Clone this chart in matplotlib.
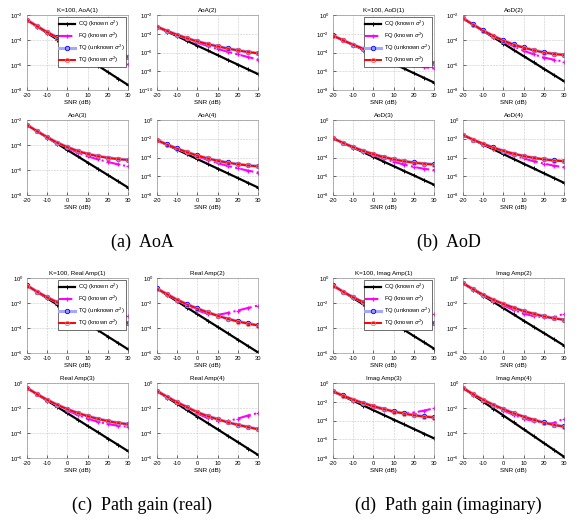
import numpy as np
import matplotlib.pyplot as plt

plt.rcParams['font.family'] = ['Liberation Sans', 'DejaVu Sans']
plt.rcParams['mathtext.fontset'] = 'custom'
plt.rcParams['mathtext.rm'] = 'Liberation Sans'
plt.rcParams['axes.unicode_minus'] = False

snr = [-20, -15, -10, -5, 0, 5, 10, 15, 20, 25, 30]

# log10 of the error values
aoa1_cq = [-2.4, -2.92, -3.44, -3.96, -4.48, -5.0, -5.52, -6.04, -6.56, -7.08, -7.6]
aoa1_fq = [-2.4, -2.9, -3.4, -3.85, -4.25, -4.6, -4.95, -5.25, -5.5, -5.75, -5.95]
aoa1_tqu = [-2.38, -2.88, -3.36, -3.78, -4.13, -4.43, -4.68, -4.88, -5.05, -5.2, -5.32]
aoa1_tqk = [-2.4, -2.9, -3.38, -3.8, -4.15, -4.45, -4.7, -4.9, -5.08, -5.22, -5.35]

aoa2_cq = [-3.25, -3.76, -4.26, -4.77, -5.27, -5.78, -6.28, -6.79, -7.29, -7.8, -8.3]
aoa2_fq = [-3.25, -3.72, -4.15, -4.58, -4.95, -5.3, -5.62, -5.92, -6.2, -6.48, -6.75]
aoa2_tqu = [-3.23, -3.68, -4.1, -4.48, -4.8, -5.08, -5.33, -5.56, -5.76, -5.93, -6.07]
aoa2_tqk = [-3.25, -3.7, -4.12, -4.5, -4.82, -5.1, -5.35, -5.58, -5.78, -5.95, -6.1]

aoa3_cq = [-2.4, -2.9, -3.4, -3.9, -4.4, -4.9, -5.4, -5.9, -6.4, -6.9, -7.4]
aoa3_fq = [-2.4, -2.9, -3.4, -3.85, -4.25, -4.6, -4.9, -5.15, -5.35, -5.55, -5.7]
aoa3_tqu = [-2.38, -2.88, -3.36, -3.8, -4.16, -4.46, -4.7, -4.88, -5.01, -5.11, -5.18]
aoa3_tqk = [-2.4, -2.9, -3.38, -3.82, -4.18, -4.48, -4.72, -4.9, -5.03, -5.13, -5.2]

aoa4_cq = [-2.15, -2.66, -3.16, -3.67, -4.17, -4.68, -5.18, -5.69, -6.19, -6.7, -7.2]
aoa4_fq = [-2.15, -2.63, -3.08, -3.5, -3.9, -4.25, -4.6, -4.9, -5.15, -5.4, -5.6]
aoa4_tqu = [-2.13, -2.6, -3.03, -3.43, -3.78, -4.08, -4.33, -4.53, -4.7, -4.83, -4.93]
aoa4_tqk = [-2.15, -2.62, -3.05, -3.45, -3.8, -4.1, -4.35, -4.55, -4.72, -4.85, -4.95]

aod1_cq = [-2.2, -2.7, -3.2, -3.7, -4.2, -4.7, -5.2, -5.7, -6.2, -6.7, -7.2]
aod1_fq = [-2.2, -2.7, -3.2, -3.65, -4.05, -4.45, -4.8, -5.1, -5.35, -5.55, -5.7]
aod1_tqu = [-2.18, -2.68, -3.16, -3.58, -3.96, -4.28, -4.53, -4.73, -4.88, -5.0, -5.08]
aod1_tqk = [-2.2, -2.7, -3.18, -3.6, -3.98, -4.3, -4.55, -4.75, -4.9, -5.02, -5.1]

aod2_cq = [-2.27, -2.77, -3.28, -3.78, -4.28, -4.79, -5.29, -5.79, -6.3, -6.8, -7.3]
aod2_fq = [-2.27, -2.77, -3.27, -3.72, -4.12, -4.5, -4.85, -5.15, -5.4, -5.58, -5.73]
aod2_tqu = [-2.25, -2.75, -3.23, -3.66, -4.03, -4.35, -4.6, -4.81, -4.98, -5.1, -5.18]
aod2_tqk = [-2.27, -2.77, -3.25, -3.68, -4.05, -4.37, -4.62, -4.83, -5.0, -5.12, -5.2]

aod3_cq = [-1.95, -2.45, -2.94, -3.44, -3.93, -4.43, -4.92, -5.42, -5.91, -6.41, -6.9]
aod3_fq = [-1.95, -2.45, -2.92, -3.35, -3.75, -4.1, -4.45, -4.75, -5.0, -5.2, -5.35]
aod3_tqu = [-1.93, -2.43, -2.88, -3.28, -3.63, -3.93, -4.18, -4.38, -4.53, -4.65, -4.73]
aod3_tqk = [-1.95, -2.45, -2.9, -3.3, -3.65, -3.95, -4.2, -4.4, -4.55, -4.67, -4.75]

aod4_cq = [-1.6, -2.11, -2.62, -3.13, -3.64, -4.15, -4.66, -5.17, -5.68, -6.19, -6.7]
aod4_fq = [-1.6, -2.1, -2.57, -3.0, -3.4, -3.75, -4.1, -4.4, -4.65, -4.87, -5.05]
aod4_tqu = [-1.58, -2.08, -2.53, -2.93, -3.28, -3.58, -3.83, -4.03, -4.18, -4.3, -4.38]
aod4_tqk = [-1.6, -2.1, -2.55, -2.95, -3.3, -3.6, -3.85, -4.05, -4.2, -4.32, -4.4]

re1_cq = [-0.6, -1.11, -1.62, -2.13, -2.64, -3.15, -3.66, -4.17, -4.68, -5.19, -5.7]
re1_fq = [-0.6, -1.1, -1.55, -1.95, -2.35, -2.7, -3.0, -3.15, -3.2, -3.15, -3.0]
re1_tqu = [-0.58, -1.08, -1.53, -1.93, -2.28, -2.58, -2.86, -3.08, -3.28, -3.45, -3.58]
re1_tqk = [-0.6, -1.1, -1.55, -1.95, -2.3, -2.6, -2.88, -3.1, -3.3, -3.47, -3.6]

re2_cq = [-0.85, -1.36, -1.87, -2.38, -2.89, -3.4, -3.91, -4.42, -4.93, -5.44, -5.95]
re2_fq = [-0.85, -1.3, -1.78, -2.2, -2.6, -2.85, -2.95, -2.8, -2.6, -2.4, -2.2]
re2_tqu = [-0.83, -1.28, -1.73, -2.1, -2.43, -2.73, -3.0, -3.25, -3.46, -3.63, -3.78]
re2_tqk = [-0.85, -1.3, -1.75, -2.12, -2.45, -2.75, -3.02, -3.27, -3.48, -3.65, -3.8]

re3_cq = [-0.4, -0.9, -1.41, -1.91, -2.42, -2.92, -3.43, -3.93, -4.44, -4.94, -5.45]
re3_fq = [-0.4, -0.9, -1.37, -1.8, -2.2, -2.55, -2.85, -3.1, -3.28, -3.42, -3.5]
re3_tqu = [-0.38, -0.88, -1.33, -1.73, -2.08, -2.38, -2.63, -2.85, -3.03, -3.18, -3.28]
re3_tqk = [-0.4, -0.9, -1.35, -1.75, -2.1, -2.4, -2.65, -2.87, -3.05, -3.2, -3.3]

re4_cq = [-0.65, -1.16, -1.67, -2.18, -2.69, -3.2, -3.71, -4.22, -4.73, -5.24, -5.75]
re4_fq = [-0.65, -1.1, -1.57, -2.0, -2.45, -2.8, -3.0, -3.05, -2.85, -2.6, -2.4]
re4_tqu = [-0.63, -1.08, -1.53, -1.93, -2.33, -2.63, -2.88, -3.13, -3.33, -3.51, -3.68]
re4_tqk = [-0.65, -1.1, -1.55, -1.95, -2.35, -2.65, -2.9, -3.15, -3.35, -3.53, -3.7]

im1_cq = [-0.6, -1.1, -1.61, -2.11, -2.62, -3.12, -3.63, -4.13, -4.64, -5.14, -5.65]
im1_fq = [-0.6, -1.1, -1.55, -1.97, -2.4, -2.75, -3.0, -3.18, -3.25, -3.1, -2.85]
im1_tqu = [-0.58, -1.08, -1.53, -1.93, -2.28, -2.6, -2.88, -3.1, -3.3, -3.46, -3.58]
im1_tqk = [-0.6, -1.1, -1.55, -1.95, -2.3, -2.62, -2.9, -3.12, -3.32, -3.48, -3.6]

im2_cq = [-0.42, -0.92, -1.42, -1.91, -2.41, -2.91, -3.41, -3.91, -4.4, -4.9, -5.4]
im2_fq = [-0.42, -0.9, -1.37, -1.8, -2.2, -2.55, -2.85, -3.05, -3.15, -3.15, -2.85]
im2_tqu = [-0.4, -0.88, -1.33, -1.73, -2.06, -2.36, -2.63, -2.85, -3.05, -3.21, -3.33]
im2_tqk = [-0.42, -0.9, -1.35, -1.75, -2.08, -2.38, -2.65, -2.87, -3.07, -3.23, -3.35]

im3_cq = [-0.9, -1.4, -1.9, -2.4, -2.9, -3.4, -3.9, -4.4, -4.9, -5.4, -5.9]
im3_fq = [-0.9, -1.35, -1.8, -2.2, -2.55, -2.85, -3.1, -3.2, -3.15, -2.95, -2.7]
im3_tqu = [-0.88, -1.33, -1.76, -2.13, -2.46, -2.76, -3.02, -3.24, -3.42, -3.56, -3.66]
im3_tqk = [-0.9, -1.35, -1.78, -2.15, -2.48, -2.78, -3.04, -3.26, -3.44, -3.58, -3.68]

im4_cq = [-0.4, -0.95, -1.5, -2.05, -2.6, -3.15, -3.7, -4.25, -4.8, -5.35, -5.9]
im4_fq = [-0.4, -0.9, -1.37, -1.8, -2.2, -2.55, -2.85, -3.05, -3.2, -3.2, -2.85]
im4_tqu = [-0.38, -0.88, -1.33, -1.73, -2.08, -2.4, -2.68, -2.93, -3.15, -3.33, -3.47]
im4_tqk = [-0.4, -0.9, -1.35, -1.75, -2.1, -2.42, -2.7, -2.95, -3.17, -3.35, -3.5]

captions = ['(a)  AoA', '(b)  AoD', '(c)  Path gain (real)', '(d)  Path gain (imaginary)']
titles = [
    ['K=100, AoA(1)', 'AoA(2)', 'AoA(3)', 'AoA(4)'],
    ['K=100, AoD(1)', 'AoD(2)', 'AoD(3)', 'AoD(4)'],
    ['K=100, Real Amp(1)', 'Real Amp(2)', 'Real Amp(3)', 'Real Amp(4)'],
    ['K=100, Imag Amp(1)', 'Imag Amp(2)', 'Imag Amp(3)', 'Imag Amp(4)'],
]
ylims = [
    [(-8, -2), (-10, -2), (-8, -2), (-8, 0)],
    [(-8, 0), (-8, -2), (-8, 0), (-8, 0)],
    [(-6, 0), (-6, 0), (-6, 0), (-6, 0)],
    [(-6, 0), (-6, 0), (-8, 0), (-6, 0)],
]
series = [
    [(aoa1_cq, aoa1_fq, aoa1_tqu, aoa1_tqk), (aoa2_cq, aoa2_fq, aoa2_tqu, aoa2_tqk),
     (aoa3_cq, aoa3_fq, aoa3_tqu, aoa3_tqk), (aoa4_cq, aoa4_fq, aoa4_tqu, aoa4_tqk)],
    [(aod1_cq, aod1_fq, aod1_tqu, aod1_tqk), (aod2_cq, aod2_fq, aod2_tqu, aod2_tqk),
     (aod3_cq, aod3_fq, aod3_tqu, aod3_tqk), (aod4_cq, aod4_fq, aod4_tqu, aod4_tqk)],
    [(re1_cq, re1_fq, re1_tqu, re1_tqk), (re2_cq, re2_fq, re2_tqu, re2_tqk),
     (re3_cq, re3_fq, re3_tqu, re3_tqk), (re4_cq, re4_fq, re4_tqu, re4_tqk)],
    [(im1_cq, im1_fq, im1_tqu, im1_tqk), (im2_cq, im2_fq, im2_tqu, im2_tqk),
     (im3_cq, im3_fq, im3_tqu, im3_tqk), (im4_cq, im4_fq, im4_tqu, im4_tqk)],
]
labels = [r'CQ (known $\sigma^2$)', r'FQ (known $\sigma^2$)',
          r'TQ (unknown $\sigma^2$)', r'TQ (known $\sigma^2$)']

W, H = 579, 521
fig = plt.figure(figsize=(W / 100, H / 100), dpi=100)

group_off = [(0, 0), (306, 0), (0, 263), (306, 263)]
panel_off = [(27, 15), (157, 15), (27, 120), (157, 120)]
pw, ph = 101, 75
fs = 4.2

for g in range(4):
    gx, gy = group_off[g]
    for p in range(4):
        px, py = panel_off[p]
        x0, y0 = gx + px, gy + py
        ax = fig.add_axes([x0 / W, 1 - (y0 + ph) / H, pw / W, ph / H])
        cq, fq, tqu, tqk = [np.power(10.0, s) for s in series[g][p]]
        ax.semilogy(snr, cq, '-', color='k', lw=1.6, marker='+', ms=3.5, mew=0.7, label=labels[0])
        ax.semilogy(snr, fq, '-.', color='#ff00ff', lw=1.5, marker='+', ms=3.5, mew=0.9, label=labels[1])
        ax.semilogy(snr, tqu, '-', color=(0.65, 0.65, 1.0), lw=2.2, marker='o', ms=3.2,
                    mec='b', mfc=(0.6, 0.6, 1.0), mew=0.6, label=labels[2])
        ax.semilogy(snr, tqk, '-', color='r', lw=1.4, marker='o', ms=3,
                    mec=(1, 0.4, 0.4), mfc='none', mew=0.6, label=labels[3])
        lo, hi = ylims[g][p]
        ax.set_ylim(10.0 ** lo, 10.0 ** hi)
        ax.set_xlim(-20, 30)
        exps = list(range(lo, hi + 1, 2))
        ax.set_yticks([10.0 ** e for e in exps])
        ax.set_yticklabels([r'$10^{%d}$' % e for e in exps])
        ax.yaxis.set_minor_locator(plt.NullLocator())
        ax.set_xticks([-20, -10, 0, 10, 20, 30])
        ax.tick_params(labelsize=fs, length=2, width=0.4, direction='in')
        ax.tick_params(axis='y', pad=2.5)
        ax.tick_params(axis='x', pad=2.5)
        ax.grid(True, ls='--', color='#c8c8c8', lw=0.4)
        for sp in ax.spines.values():
            sp.set_linewidth(0.4)
            sp.set_color('#808080')
        ax.set_title(titles[g][p], fontsize=fs + 0.3, pad=2)
        ax.set_xlabel('SNR (dB)', fontsize=fs + 0.3, labelpad=1)
        if p == 0:
            leg = ax.legend(loc='upper right', fontsize=fs, frameon=True, fancybox=False,
                            edgecolor='k', framealpha=1, handlelength=2.6, borderpad=0.3,
                            labelspacing=0.3, handletextpad=0.5, borderaxespad=0.3)
            leg.get_frame().set_linewidth(0.4)
    cx = gx + (27 + 157 + pw) / 2
    cy = gy + 242
    fig.text(cx / W, 1 - cy / H, captions[g], ha='center', va='center',
             fontsize=13, family='Liberation Serif')

fig.savefig('out.png', dpi=100)
